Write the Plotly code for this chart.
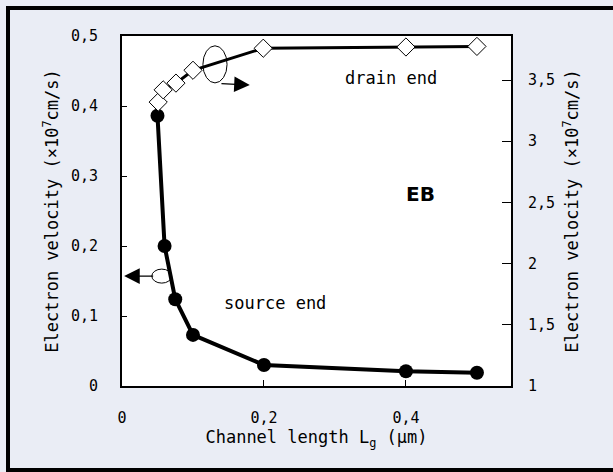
import plotly.graph_objects as go

# Data
channel_length = [0.05, 0.06, 0.075, 0.1, 0.2, 0.4, 0.5]
source_velocity = [0.386, 0.200, 0.124, 0.073, 0.030, 0.021, 0.019]
drain_x = [0.051, 0.058, 0.076, 0.1, 0.199, 0.4, 0.5]
drain_velocity = [3.32, 3.42, 3.475, 3.58, 3.76, 3.77, 3.775]

left_ticks = [0, 0.1, 0.2, 0.3, 0.4, 0.5]
right_ticks = [1, 1.5, 2, 2.5, 3, 3.5]
x_ticks = [0, 0.2, 0.4]

FONT = "DejaVu Sans Mono"
BG = "#eaedf5"

fig = go.Figure()
fig.add_trace(go.Scatter(
    x=channel_length, y=source_velocity, mode="lines+markers",
    line=dict(color="black", width=4),
    marker=dict(symbol="circle", size=14, color="black"),
    name="source end", showlegend=False))
fig.add_trace(go.Scatter(
    x=drain_x, y=drain_velocity, mode="lines+markers", yaxis="y2",
    line=dict(color="black", width=3),
    marker=dict(symbol="diamond", size=14, color="white",
                line=dict(color="black", width=1)),
    name="drain end", showlegend=False))

axis_common = dict(showline=True, linecolor="black", linewidth=2,
                   ticks="inside", tickcolor="black", showgrid=False,
                   zeroline=False, tickfont=dict(family=FONT, size=15, color="black"))

fig.update_layout(
    width=613, height=472,
    margin=dict(l=122, r=102, t=36, b=86),
    paper_bgcolor=BG, plot_bgcolor="white",
    separators=", ",
    font=dict(family=FONT, color="black"),
    xaxis=dict(range=[0, 0.548], tickvals=x_ticks, ticklen=6,
               ticklabelstandoff=17, mirror=True,
               title=dict(text="Channel length L<sub>g</sub> (µm)",
                          font=dict(family=FONT, size=17), standoff=4),
               **axis_common),
    yaxis=dict(range=[0, 0.5], tickvals=left_ticks, ticklen=5,
               ticklabelstandoff=19,
               title=dict(text="Electron velocity (×10<sup>7</sup>cm/s)",
                          font=dict(family=FONT, size=17), standoff=8),
               **axis_common),
    yaxis2=dict(range=[1, 3.86], tickvals=right_ticks, ticklen=9,
                overlaying="y", side="right", ticklabelstandoff=12,
                title=dict(text="Electron velocity (×10<sup>7</sup>cm/s)",
                           font=dict(family=FONT, size=17), standoff=12),
                **axis_common),
)

# Text labels
fig.add_annotation(x=0.379, y=0.44, xref="x", yref="y", text="drain end",
                   showarrow=False, font=dict(family=FONT, size=17))
fig.add_annotation(x=0.42, y=0.274, xref="x", yref="y", text="<b>EB</b>",
                   showarrow=False, font=dict(family="DejaVu Sans", size=20))
fig.add_annotation(x=0.2155, y=0.119, xref="x", yref="y", text="source end",
                   showarrow=False, font=dict(family=FONT, size=17))

# Ellipses marking curves
fig.add_shape(type="circle", xref="x", yref="y", x0=0.114, x1=0.148,
              y0=0.433, y1=0.486, line=dict(color="black", width=1))
fig.add_shape(type="circle", xref="x", yref="y", x0=0.042, x1=0.070,
              y0=0.147, y1=0.167, line=dict(color="black", width=1))

# Arrows
fig.add_annotation(x=0.18, y=0.43, ax=0.138, ay=0.432, xref="x", yref="y",
                   axref="x", ayref="y", text="", showarrow=True,
                   arrowhead=2, arrowsize=2.6, arrowwidth=1.2, arrowcolor="black")
fig.add_annotation(x=0.003, y=0.157, ax=0.046, ay=0.157, xref="x", yref="y",
                   axref="x", ayref="y", text="", showarrow=True,
                   arrowhead=2, arrowsize=2.6, arrowwidth=1.2, arrowcolor="black")

# Outer frame
fig.add_shape(type="rect", xref="paper", yref="paper",
              x0=(8 - 122) / 389, x1=(620 - 122) / 389,
              y0=(386 - 470) / 350, y1=(386 - 8) / 350,
              line=dict(color="black", width=4), layer="below")

fig.write_html("out.html")
